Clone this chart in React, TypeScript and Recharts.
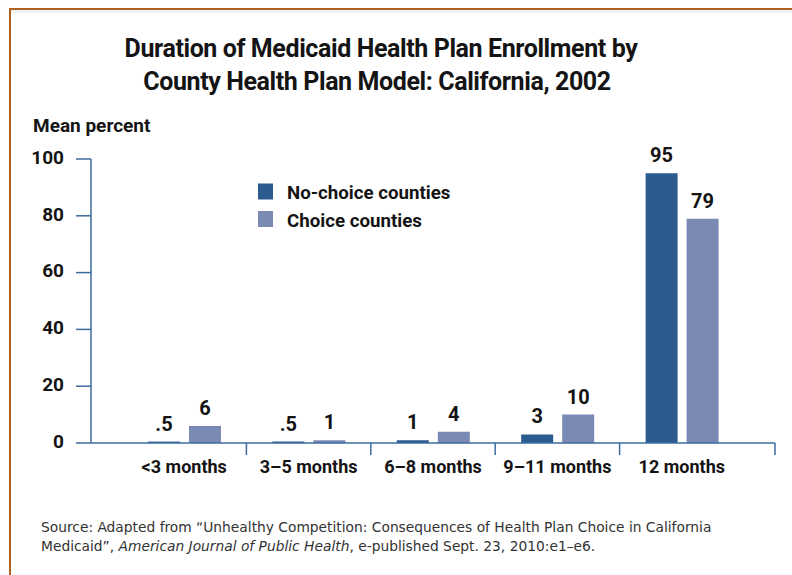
import React from 'react';
import { BarChart, Bar, XAxis, YAxis, LabelList } from 'recharts';

const categories = ['<3 months', '3–5 months', '6–8 months', '9–11 months', '12 months'];
const noChoiceValues = [0.5, 0.5, 1, 3, 95];
const choiceValues = [6, 1, 4, 10, 79];
const yTicks = [0, 20, 40, 60, 80, 100];
const seriesNames = ['No-choice counties', 'Choice counties'];

const titleLines = [
  'Duration of Medicaid Health Plan Enrollment by',
  'County Health Plan Model: California, 2002',
];

const data = categories.map((c, i) => ({
  category: c,
  noChoice: noChoiceValues[i],
  choice: choiceValues[i],
}));

const W = 792;
const H = 575;
const NAVY = '#2b5b8f';
const LAVENDER = '#7b89b5';
const AXIS = '#3d6b9e';
const TEXT = '#141414';
const FONT = 'Roboto, "Liberation Sans", sans-serif';
const seriesColors = [NAVY, LAVENDER];

const MARGIN = { top: 159, right: 17, bottom: 102, left: 11 };
const YAXIS_W = 80;
const PAD = 31;
const PLOT_LEFT = MARGIN.left + YAXIS_W;
const PLOT_RIGHT = W - MARGIN.right;
const PLOT_BOTTOM = H - MARGIN.bottom - 30;
const HALF_BAND = (PLOT_RIGHT - PLOT_LEFT - 2 * PAD) / categories.length / 2;

const fmt = (v: any) => {
  const n = Number(v);
  if (n < 1) return String(n).replace(/^0/, '');
  return String(n);
};

const CatTick = (props: any) => {
  const { x, payload, index } = props;
  const last = index === categories.length - 1;
  const lx = last ? PLOT_RIGHT : x + HALF_BAND;
  return (
    <g>
      <line x1={lx} x2={lx} y1={PLOT_BOTTOM} y2={PLOT_BOTTOM + 12} stroke={AXIS} strokeWidth={1.5} />
      <text
        x={x}
        y={PLOT_BOTTOM + 30}
        textAnchor="middle"
        fill={TEXT}
        fontSize={18}
        fontWeight={700}
        fontFamily={FONT}
      >
        {payload.value}
      </text>
    </g>
  );
};

export default function App() {
  return (
    <div style={{ position: 'absolute', left: 0, top: 0, width: W, height: H, background: '#fff', overflow: 'hidden' }}>
      <div
        style={{
          position: 'absolute',
          left: 9,
          top: 8,
          width: W,
          height: H,
          borderTop: '2px solid #b0611f',
          borderLeft: '2px solid #b0611f',
        }}
      />
      <div style={{ position: 'absolute', left: 11, top: 10, width: W, height: 3, background: '#f1f2f5' }} />
      <BarChart
        width={W}
        height={H}
        data={data}
        margin={MARGIN}
        barSize={32}
        barGap={9}
        style={{ position: 'absolute', left: 0, top: 0 }}
      >
        <XAxis
          dataKey="category"
          padding={{ left: PAD, right: PAD }}
          axisLine={{ stroke: AXIS, strokeWidth: 1.5 }}
          tickLine={false}
          tick={<CatTick />}
          interval={0}
          height={30}
        />
        <YAxis
          width={YAXIS_W}
          domain={[0, 100]}
          ticks={yTicks}
          interval={0}
          tickSize={15}
          tickMargin={12}
          axisLine={{ stroke: AXIS, strokeWidth: 1.5 }}
          tickLine={{ stroke: AXIS, strokeWidth: 1.5 }}
          tick={{ fill: TEXT, fontSize: 19, fontWeight: 700, fontFamily: FONT, dy: -2 }}
        />
        <Bar dataKey="noChoice" name={seriesNames[0]} fill={NAVY} isAnimationActive={false}>
          <LabelList
            dataKey="noChoice"
            position="top"
            offset={11}
            formatter={fmt}
            fill={TEXT}
            fontSize={20}
            fontWeight={700}
            fontFamily={FONT}
          />
        </Bar>
        <Bar dataKey="choice" name={seriesNames[1]} fill={LAVENDER} isAnimationActive={false}>
          <LabelList
            dataKey="choice"
            position="top"
            offset={11}
            formatter={fmt}
            fill={TEXT}
            fontSize={20}
            fontWeight={700}
            fontFamily={FONT}
          />
        </Bar>
      </BarChart>
      <svg width={W} height={H} style={{ position: 'absolute', left: 0, top: 0, pointerEvents: 'none' }}>
        <text x={381} y={57} textAnchor="middle" fill={TEXT} fontSize={25} fontWeight={700} fontFamily={FONT} letterSpacing={-0.4}>
          {titleLines[0]}
        </text>
        <text x={377} y={90} textAnchor="middle" fill={TEXT} fontSize={25} fontWeight={700} fontFamily={FONT} letterSpacing={-0.4}>
          {titleLines[1]}
        </text>
        <text x={33} y={132} fill={TEXT} fontSize={19} fontWeight={700} fontFamily={FONT}>
          Mean percent
        </text>
        {seriesNames.map((n, i) => (
          <g key={n}>
            <rect x={258} y={183.5 + i * 27.5} width={15} height={16} fill={seriesColors[i]} />
            <text x={287} y={199 + i * 27.5} fill={TEXT} fontSize={18.7} fontWeight={700} fontFamily={FONT}>
              {n}
            </text>
          </g>
        ))}
        <text x={41} y={531.5} fill="#333" fontSize={13.8} fontFamily='"DejaVu Sans", sans-serif'>
          Source: Adapted from “Unhealthy Competition: Consequences of Health Plan Choice in California
        </text>
        <text x={41} y={550.5} fill="#333" fontSize={13.8} fontFamily='"DejaVu Sans", sans-serif'>
          Medicaid”, <tspan fontStyle="italic">American Journal of Public Health</tspan>, e-published Sept. 23, 2010:e1–e6.
        </text>
      </svg>
    </div>
  );
}
